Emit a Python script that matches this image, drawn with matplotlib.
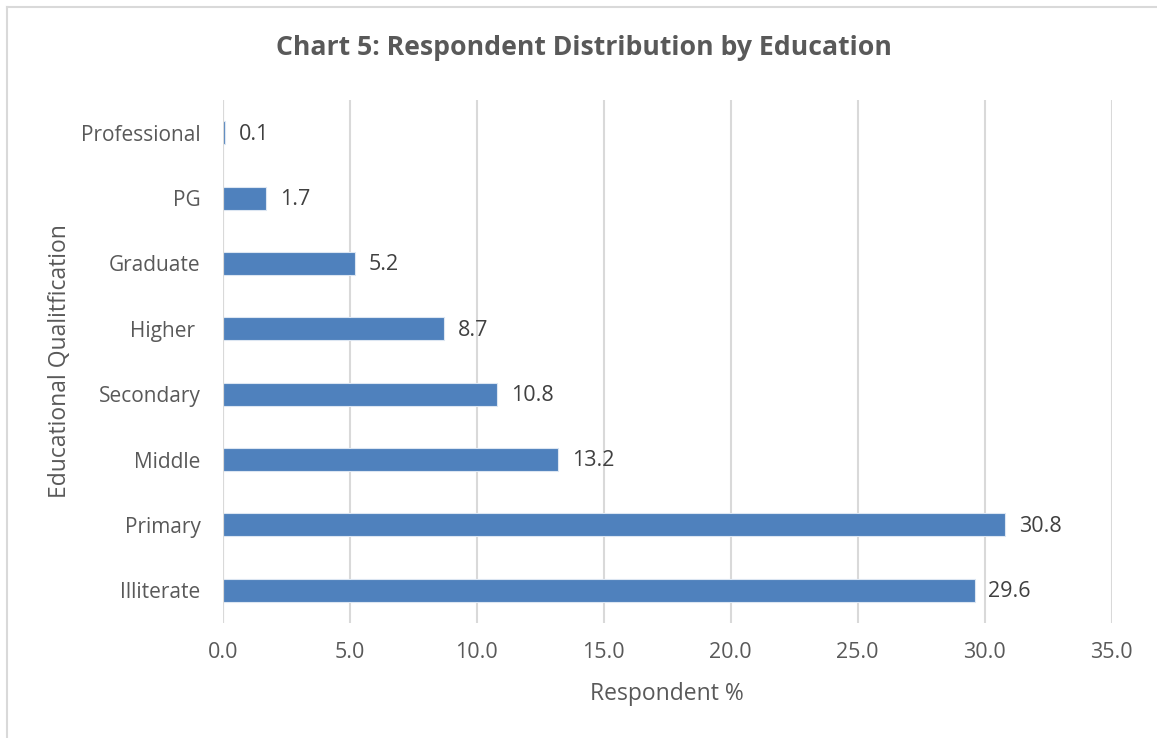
import matplotlib.pyplot as plt
from matplotlib.lines import Line2D

# education levels, bottom to top
categories = ['Illiterate', 'Primary', 'Middle', 'Secondary', 'Higher ', 'Graduate', 'PG', 'Professional']
percent = [29.6, 30.8, 13.2, 10.8, 8.7, 5.2, 1.7, 0.1]
x_ticks = [0, 5, 10, 15, 20, 25, 30, 35]

plt.rcParams['font.family'] = ['Open Sans', 'DejaVu Sans']

fig = plt.figure(figsize=(11.57, 7.38), dpi=100)
ax = fig.add_axes([222.7 / 1157, 1 - 623 / 738, 889 / 1157, 523 / 738])

pos = range(len(categories))
ax.barh(pos, percent, height=0.35, color='#4F81BD', edgecolor='#DCE6F2', linewidth=0.8, zorder=3)

for p, v in zip(pos, percent):
    ax.annotate(f'{v:.1f}', (v, p), xytext=(10, -1), textcoords='offset points',
                va='center', ha='left', fontsize=15.5, color='#404040')

ax.set_xlim(0, 35)
ax.set_ylim(-0.5, len(categories) - 0.5)
ax.set_xticks(x_ticks)
ax.set_xticklabels([f'{t:.1f}' for t in x_ticks], fontsize=15.5, color='#595959')
ax.set_yticks(list(pos))
ax.set_yticklabels(categories, fontsize=15, color='#595959')
ax.tick_params(length=0, pad=14)
ax.tick_params(axis='y', pad=16)
ax.grid(axis='x', color='#D9D9D9', linewidth=1.5, zorder=0)
for s in ax.spines.values():
    s.set_visible(False)
ax.axvline(0, color='#D9D9D9', linewidth=1.5, zorder=4)

ax.set_xlabel('Respondent %', fontsize=16.5, color='#595959', labelpad=13)
fig.text(60 / 1157, 1 - 361 / 738, 'Educational Qualitfication', rotation=90,
         ha='center', va='center', fontsize=16.5, color='#595959')

fig.text(584 / 1157, 1 - 48 / 738, 'Chart 5: Respondent Distribution by Education',
         ha='center', va='center', fontsize=19.2, fontweight='bold', color='#595959')

# chart frame (top and left edges)
fig.add_artist(Line2D([7 / 1157, 1], [1 - 7 / 738] * 2, transform=fig.transFigure, color='#D9D9D9', lw=1.5))
fig.add_artist(Line2D([7 / 1157] * 2, [0, 1 - 7 / 738], transform=fig.transFigure, color='#D9D9D9', lw=1.5))

fig.savefig('out.png', dpi=100)
